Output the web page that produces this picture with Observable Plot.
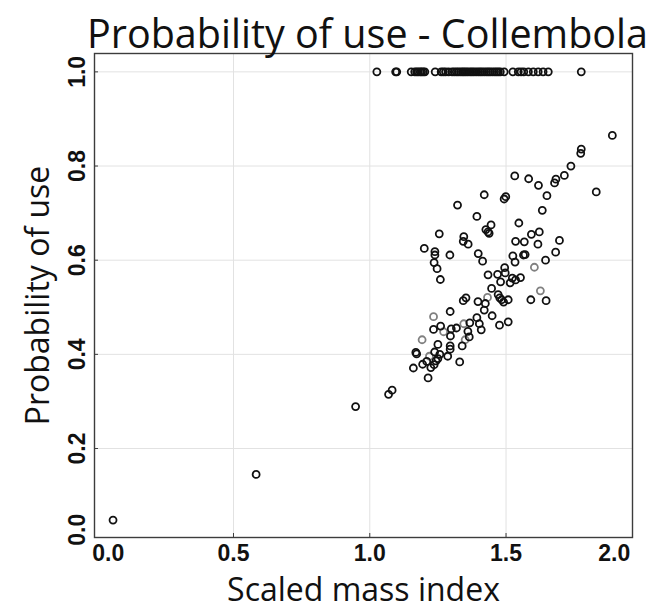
<!DOCTYPE html>
<html><head><meta charset="utf-8">
<script src="https://cdn.jsdelivr.net/npm/d3@7"></script>
<script src="https://cdn.jsdelivr.net/npm/@observablehq/plot@0.6"></script>
<style>body{margin:0;background:#fff} svg{display:block}</style>
</head><body><div id="chart"></div>
<script>
const title = "Probability of use - Collembola";
const xLabel = "Scaled mass index";
const yLabel = "Probability of use";
const xTicks = [0.0, 0.5, 1.0, 1.5, 2.0];
const yTicks = [0.0, 0.2, 0.4, 0.6, 0.8, 1.0];

// observations with probability of use = 1.0
const usedMass = [1.026, 1.095, 1.099, 1.152, 1.165, 1.172, 1.178, 1.185, 1.19, 1.196, 1.202, 1.24, 1.262, 1.27, 1.278, 1.289,
  1.302, 1.31, 1.318, 1.325, 1.333, 1.34, 1.346, 1.353, 1.36, 1.368, 1.375, 1.382, 1.39, 1.398, 1.405, 1.412, 1.42, 1.428,
  1.435, 1.442, 1.45, 1.458, 1.465, 1.472, 1.479, 1.493, 1.525, 1.545, 1.555, 1.565, 1.582, 1.60, 1.618, 1.636, 1.655, 1.776];

// fitted probabilities (dark markers)
const massIndex = [1.890,1.776,1.774,1.738,1.714,1.683,1.678,1.532,1.583,1.619,1.831,1.650,1.420,1.493,1.499,1.322,1.633,1.393,
  1.547,1.445,1.426,1.438,1.434,1.255,1.345,1.343,1.361,1.593,1.622,1.535,1.567,1.617,1.696,1.200,1.239,1.239,1.294,1.398,
  1.682,1.525,1.564,1.570,1.236,1.414,1.533,1.645,1.247,1.495,1.259,1.434,1.469,1.497,1.523,1.535,1.553,1.515,1.480,1.447,
  1.343,1.353,1.397,1.471,1.477,1.484,1.491,1.508,1.591,1.647,1.424,1.420,1.295,1.449,1.393,1.402,1.367,1.508,1.476,1.260,
  1.299,1.318,1.234,1.409,1.360,1.296,1.365,1.250,1.339,1.295,1.295,1.169,1.172,1.238,1.257,1.286,1.250,1.243,1.209,1.194,
  1.236,1.224,1.160,1.330,1.214,1.082,1.069,0.948,0.583,0.058];
const probUse = [0.865,0.836,0.827,0.800,0.780,0.772,0.764,0.779,0.773,0.759,0.745,0.737,0.739,0.730,0.735,0.717,0.706,0.693,
  0.679,0.675,0.665,0.657,0.660,0.656,0.650,0.640,0.634,0.655,0.660,0.640,0.639,0.634,0.642,0.625,0.618,0.611,0.611,0.614,
  0.617,0.609,0.611,0.612,0.595,0.598,0.596,0.600,0.582,0.584,0.559,0.569,0.570,0.573,0.562,0.558,0.563,0.552,0.554,0.540,
  0.514,0.520,0.512,0.527,0.520,0.516,0.511,0.516,0.516,0.514,0.508,0.494,0.491,0.482,0.478,0.465,0.467,0.469,0.462,0.460,
  0.454,0.456,0.453,0.452,0.449,0.439,0.437,0.421,0.418,0.418,0.411,0.404,0.401,0.405,0.400,0.396,0.391,0.386,0.385,0.379,
  0.378,0.372,0.371,0.384,0.350,0.324,0.315,0.289,0.145,0.048];

// lighter markers
const grayMass = [1.604, 1.626, 1.432, 1.234, 1.345, 1.271, 1.350, 1.192, 1.219];
const grayProb = [0.585, 0.535, 0.521, 0.480, 0.465, 0.448, 0.431, 0.431, 0.396];

const used = usedMass.map(m => ({m, p: 1.0}));
const dark = massIndex.map((m, i) => ({m, p: probUse[i]}));
const light = grayMass.map((m, i) => ({m, p: grayProb[i]}));

const lblFont = {fontFamily: "Liberation Sans, Arial, sans-serif", fontWeight: "bold", fontSize: 23, fill: "#111"};

const chart = Plot.plot({
  width: 654, height: 608,
  marginLeft: 94, marginRight: 22, marginTop: 53, marginBottom: 71,
  style: {fontFamily: "Open Sans, sans-serif", background: "#fff"},
  x: {domain: [-0.01, 1.964], axis: null},
  y: {domain: [0.011, 1.039], axis: null},
  marks: [
    Plot.gridX(xTicks.filter(d => d > 0 && d < 2), {stroke: "#e2e2e2", strokeOpacity: 1, strokeWidth: 1}),
    Plot.gridY(yTicks.filter(d => d > 0), {stroke: "#e2e2e2", strokeOpacity: 1, strokeWidth: 1}),
    Plot.axisY(yTicks.filter(d => d > 0), {anchor: "left", tickSize: -4, tickFormat: () => "", label: null, stroke: "#3c3c3c"}),
    Plot.axisX(xTicks.filter(d => d > 0 && d < 2), {anchor: "bottom", tickSize: -4, tickFormat: () => "", label: null, stroke: "#3c3c3c"}),
    Plot.dot(light, {x: "m", y: "p", r: 3.5, stroke: "#808080", strokeWidth: 1.8, fill: "none"}),
    Plot.dot(dark, {x: "m", y: "p", r: 3.5, stroke: "#111", strokeWidth: 1.8, fill: "none"}),
    Plot.dot(used, {x: "m", y: "p", r: 3.5, stroke: "#111", strokeWidth: 1.8, fill: "none"}),
    Plot.frame({stroke: "#3c3c3c", strokeWidth: 1.4}),
    // x tick labels
    Plot.text(xTicks.slice(1, 4), {x: d => d, frameAnchor: "bottom", lineAnchor: "top", textAnchor: "middle", dy: 7, text: d => d.toFixed(1), ...lblFont}),
    Plot.text(xTicks.slice(0, 1), {x: d => d, frameAnchor: "bottom", lineAnchor: "top", dy: 7, dx: -5, textAnchor: "start", text: d => d.toFixed(1), ...lblFont}),
    Plot.text(xTicks.slice(4), {x: d => d, frameAnchor: "bottom", lineAnchor: "top", dy: 7, dx: -12, textAnchor: "end", text: d => d.toFixed(1), ...lblFont}),
    // y tick labels
    Plot.text(yTicks.slice(1), {y: d => d, frameAnchor: "left", lineAnchor: "middle", textAnchor: "middle", rotate: -90, dx: -17, text: d => d.toFixed(1), ...lblFont}),
    Plot.text(yTicks.slice(0, 1), {y: d => d, frameAnchor: "left", lineAnchor: "middle", rotate: -90, dx: -17, dy: 3, textAnchor: "start", text: d => d.toFixed(1), ...lblFont}),
    // titles
    Plot.text([xLabel], {frameAnchor: "bottom", lineAnchor: "bottom", textAnchor: "middle", dy: 63, text: d => d, fontSize: 32, fill: "#111"}),
    Plot.text([yLabel], {frameAnchor: "left", lineAnchor: "middle", textAnchor: "middle", rotate: -90, dx: -56, text: d => d, fontSize: 32, fill: "#111"}),
    Plot.text([title], {frameAnchor: "top", lineAnchor: "bottom", textAnchor: "middle", dx: 4, dy: -6, text: d => d, fontSize: 39.5, fill: "#111"})
  ]
});
document.getElementById("chart").append(chart);
</script>
</body></html>
